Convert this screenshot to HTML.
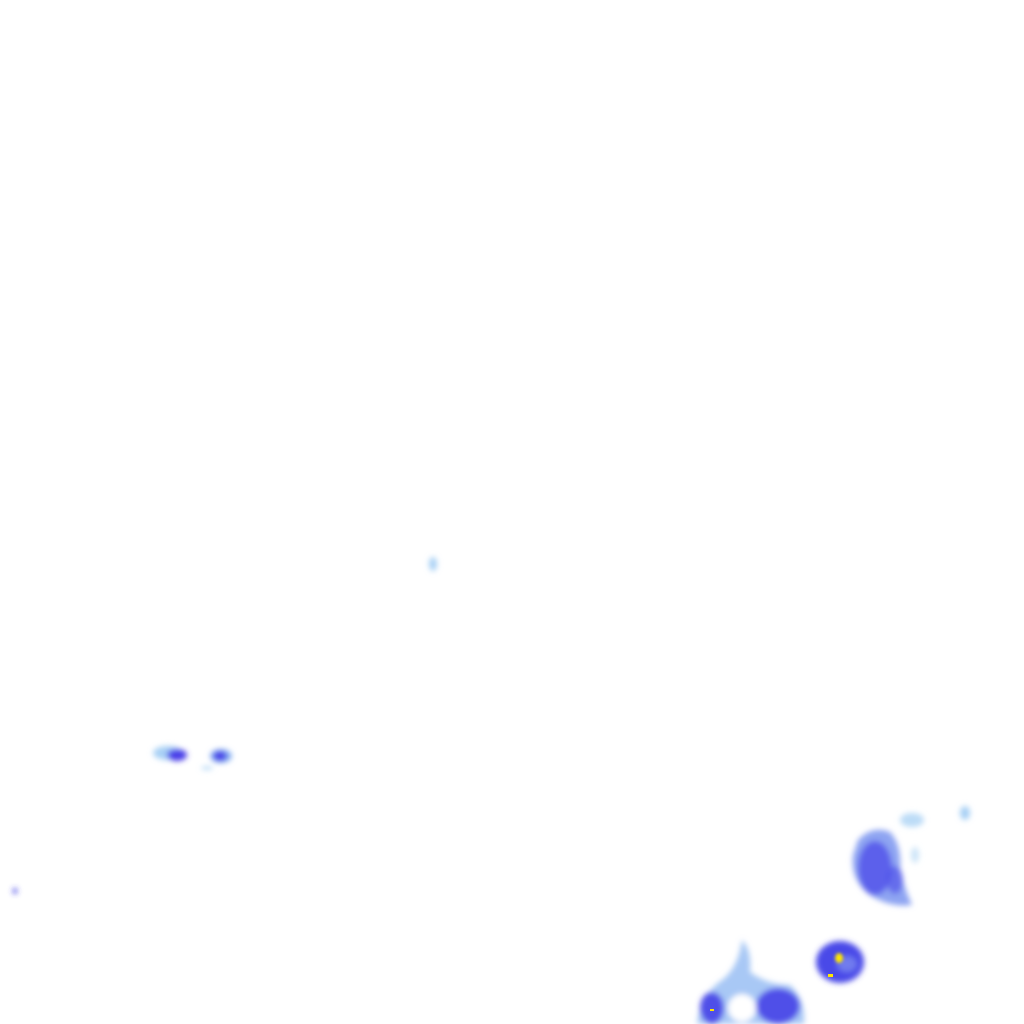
<!DOCTYPE html>
<html><head><style>html,body{margin:0;padding:0;background:#fff;width:1024px;height:1024px;overflow:hidden}</style></head>
<body>
<svg width="1024" height="1024" viewBox="0 0 1024 1024" xmlns="http://www.w3.org/2000/svg">
<defs>
<filter id="b" x="-50%" y="-50%" width="200%" height="200%"><feGaussianBlur stdDeviation="3"/></filter>
<filter id="b2" x="-50%" y="-50%" width="200%" height="200%"><feGaussianBlur stdDeviation="1.5"/></filter>
</defs>
<rect width="1024" height="1024" fill="#fff"/>
<g filter="url(#b)">
<ellipse cx="168" cy="753" rx="15" ry="7" fill="#a8d0f5"/>
<ellipse cx="177" cy="755" rx="10" ry="6" fill="#4a3de8"/>
<ellipse cx="221" cy="756" rx="11" ry="7" fill="#8ab4f2"/>
<ellipse cx="220" cy="756" rx="7" ry="5" fill="#4a3de8"/>
<ellipse cx="207" cy="768" rx="6" ry="1.5" fill="#a8d0f5"/>
<ellipse cx="433" cy="564" rx="4" ry="7" fill="#a8d0f5"/>
<ellipse cx="15" cy="891" rx="2" ry="3" fill="#3a3ae8"/>
<path d="M858 840 Q872 825 890 832 Q902 845 900 870 Q905 890 912 905 Q890 908 870 895 Q850 880 853 855 Z" fill="#8ea4f2"/>
<ellipse cx="875" cy="868" rx="17" ry="27" fill="#4a4ae8" opacity="0.75"/>
<ellipse cx="895" cy="880" rx="8" ry="14" fill="#4a4ae8" opacity="0.6"/>
<ellipse cx="912" cy="820" rx="12" ry="7" fill="#bcdcf7"/>
<ellipse cx="915" cy="855" rx="4" ry="8" fill="#cce4f8"/>
<ellipse cx="965" cy="813" rx="5" ry="7" fill="#a8d0f5"/>
<ellipse cx="840" cy="962" rx="24" ry="21" fill="#4848e8"/>
<ellipse cx="847" cy="964" rx="10" ry="8" fill="#8ea0f2" opacity="0.6"/>
<path d="M697 1024 Q700 995 722 980 Q738 968 742 940 Q752 950 750 972 Q768 985 790 985 Q806 1000 804 1024 Z" fill="#a8c8f5"/>
<ellipse cx="778" cy="1006" rx="22" ry="18" fill="#5050e8"/>
<ellipse cx="712" cy="1008" rx="12" ry="16" fill="#5050e8"/>
<ellipse cx="742" cy="1008" rx="14" ry="14" fill="#fff"/>
</g>
<g filter="url(#b2)">
<ellipse cx="839" cy="958" rx="4" ry="5" fill="#ffe600"/>
</g>
<rect x="828" y="974" width="5" height="3" fill="#ffe600"/>
<rect x="710" y="1009" width="4" height="2" fill="#ffe600"/>
</svg>
</body></html>
